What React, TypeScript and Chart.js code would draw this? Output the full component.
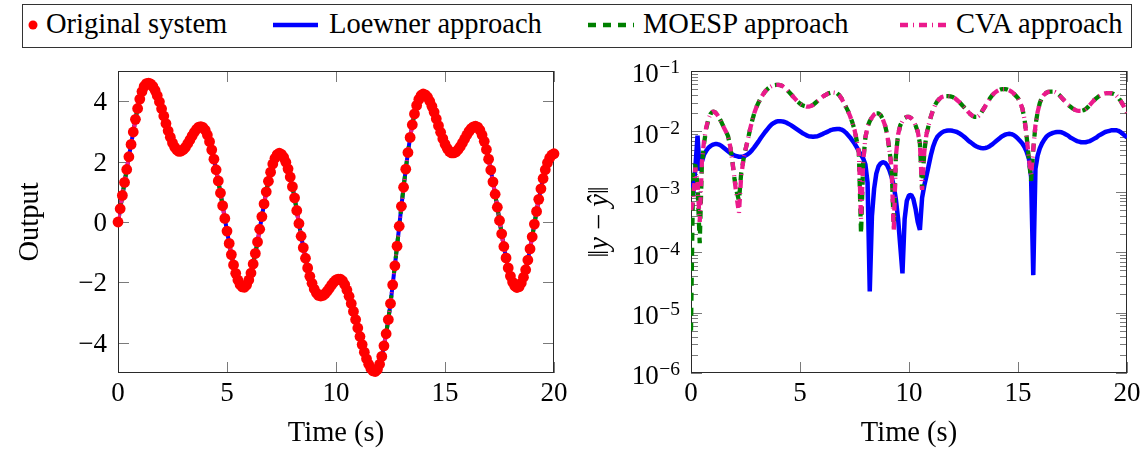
import React, { useEffect, useRef } from 'react';
import { Chart, registerables } from 'chart.js';

Chart.register(...registerables);

const SERIF = '"Liberation Serif", Tinos, "DejaVu Serif", "Noto Serif", "Times New Roman", Times, serif';

// ---- legend / series ----
const seriesNames = ['Original system', 'Loewner approach', 'MOESP approach', 'CVA approach'];
const seriesColors = ['#ff0000', '#0000ff', '#008000', '#eb1a8c'];

// ---- axes ----
const timeStepS = 0.1; // sampling interval of all series (s), t = 0 ... 20
const timeTicks = [0, 5, 10, 15, 20];
const outputTicks = [-4, -2, 0, 2, 4];
const errorDecades = [-6, -5, -4, -3, -2, -1]; // 10^-6 ... 10^-1

// ---- left panel: output of the original system (t = 0, 0.1, ..., 20) ----
const outputValues = [
  0, 0.44, 0.88, 1.31, 1.74, 2.16, 2.57, 2.98, 3.40, 3.76,
  4.07, 4.32, 4.49, 4.58, 4.60, 4.57, 4.49, 4.36, 4.19, 3.98,
  3.75, 3.51, 3.26, 3.02, 2.81, 2.62, 2.48, 2.39, 2.34, 2.35,
  2.40, 2.48, 2.60, 2.72, 2.85, 2.97, 3.07, 3.14, 3.16, 3.13,
  3.04, 2.88, 2.66, 2.39, 2.08, 1.73, 1.36, 0.96, 0.54, 0.12,
  -0.30, -0.71, -1.08, -1.42, -1.70, -1.92, -2.07, -2.15, -2.16, -2.08,
  -1.92, -1.69, -1.39, -1.04, -0.66, -0.24, 0.18, 0.60, 1.00, 1.35,
  1.65, 1.92, 2.11, 2.23, 2.28, 2.24, 2.14, 1.98, 1.76, 1.49,
  1.17, 0.80, 0.38, -0.05, -0.47, -0.85, -1.20, -1.52, -1.80, -2.03,
  -2.22, -2.35, -2.43, -2.45, -2.43, -2.37, -2.29, -2.19, -2.08, -1.99,
  -1.92, -1.89, -1.89, -1.95, -2.07, -2.25, -2.46, -2.70, -2.96, -3.23,
  -3.51, -3.79, -4.06, -4.31, -4.53, -4.71, -4.85, -4.93, -4.95, -4.88,
  -4.71, -4.45, -4.10, -3.70, -3.23, -2.70, -2.08, -1.45, -0.80, -0.14,
  0.52, 1.15, 1.75, 2.30, 2.80, 3.22, 3.58, 3.86, 4.06, 4.19,
  4.24, 4.21, 4.13, 4.00, 3.83, 3.64, 3.42, 3.19, 2.97, 2.76,
  2.58, 2.44, 2.34, 2.29, 2.29, 2.32, 2.40, 2.50, 2.62, 2.75,
  2.88, 3.00, 3.09, 3.15, 3.17, 3.14, 3.04, 2.88, 2.67, 2.40,
  2.08, 1.72, 1.33, 0.92, 0.49, 0.05, -0.39, -0.81, -1.19, -1.52,
  -1.79, -1.99, -2.12, -2.17, -2.14, -2.02, -1.83, -1.58, -1.26, -0.89,
  -0.49, -0.07, 0.35, 0.75, 1.10, 1.44, 1.73, 1.96, 2.12, 2.22,
  2.26,
];

// ---- right panel: log10 of ||y - y_hat|| (t = 0, 0.1, ..., 20) ----
const loewnerErrLog10 = [
  -2.85, -3.05, -2.6, -2.07, -2.65, -2.5, -2.38, -2.32, -2.27, -2.24,
  -2.22, -2.21, -2.21, -2.22, -2.24, -2.27, -2.30, -2.33, -2.36, -2.38,
  -2.40, -2.41, -2.42, -2.42, -2.415, -2.40, -2.38, -2.35, -2.31, -2.265,
  -2.215, -2.165, -2.11, -2.06, -2.01, -1.965, -1.92, -1.885, -1.86, -1.84,
  -1.83, -1.83, -1.835, -1.845, -1.86, -1.88, -1.90, -1.925, -1.95, -1.975,
  -2.0, -2.025, -2.045, -2.065, -2.08, -2.085, -2.09, -2.085, -2.08, -2.065,
  -2.05, -2.03, -2.015, -2.0, -1.98, -1.97, -1.965, -1.96, -1.96, -1.97,
  -1.99, -2.02, -2.06, -2.1, -2.15, -2.2, -2.26, -2.33, -2.39, -2.45,
  -2.55, -2.85, -4.65, -3.4, -2.95, -2.7, -2.58, -2.53, -2.51, -2.52,
  -2.56, -2.64, -2.75, -2.9, -3.13, -3.45, -3.9, -4.35, -3.45, -3.15,
  -3.06, -3.05, -3.12, -3.28, -3.5, -3.63, -3.1, -2.9, -2.74, -2.57,
  -2.4, -2.26, -2.16, -2.09, -2.05, -2.02, -2.0, -1.99, -1.985, -1.985,
  -1.99, -2.0, -2.01, -2.03, -2.055, -2.08, -2.11, -2.145, -2.175, -2.2,
  -2.23, -2.25, -2.265, -2.275, -2.28, -2.275, -2.265, -2.245, -2.22, -2.19,
  -2.16, -2.13, -2.1, -2.075, -2.055, -2.045, -2.04, -2.045, -2.06, -2.085,
  -2.12, -2.16, -2.2, -2.26, -2.34, -2.45, -2.75, -4.38, -2.62, -2.4,
  -2.28, -2.2, -2.14, -2.09, -2.06, -2.04, -2.025, -2.015, -2.01, -2.01,
  -2.015, -2.03, -2.05, -2.07, -2.1, -2.12, -2.14, -2.16, -2.17, -2.18,
  -2.18, -2.18, -2.17, -2.16, -2.14, -2.12, -2.1, -2.07, -2.05, -2.03,
  -2.01, -2.0, -1.99, -1.98, -1.98, -1.98, -1.99, -2.01, -2.04, -2.07,
  -2.1,
];

const moespErrLog10 = [
  -5.3, -2.6, -2.55, -2.9, -3.85, -2.55, -2.2, -1.95, -1.8, -1.71,
  -1.67, -1.68, -1.72, -1.78, -1.85, -1.93, -2.0, -2.08, -2.25, -2.5,
  -2.8, -3.0, -3.15, -2.7, -2.48, -2.3, -2.15, -1.98, -1.83, -1.7,
  -1.6, -1.52, -1.45, -1.39, -1.34, -1.3, -1.27, -1.25, -1.235, -1.23,
  -1.23, -1.235, -1.25, -1.28, -1.31, -1.35, -1.39, -1.43, -1.47, -1.51,
  -1.54, -1.565, -1.58, -1.59, -1.59, -1.58, -1.56, -1.53, -1.5, -1.47,
  -1.44, -1.41, -1.39, -1.37, -1.36, -1.355, -1.36, -1.37, -1.4, -1.45,
  -1.52, -1.59, -1.66, -1.75, -1.85, -1.97, -2.15, -2.35, -3.7, -2.5,
  -2.1, -1.92, -1.83, -1.77, -1.72, -1.7, -1.7, -1.73, -1.8, -1.9,
  -2.05, -2.3, -2.6, -3.55, -2.4, -2.05, -1.9, -1.83, -1.78, -1.76,
  -1.76, -1.78, -1.82, -1.9, -2.0, -2.2, -2.95, -2.35, -2.05, -1.9,
  -1.76, -1.65, -1.56, -1.5, -1.46, -1.43, -1.42, -1.415, -1.415, -1.42,
  -1.43, -1.45, -1.48, -1.51, -1.55, -1.59, -1.63, -1.67, -1.71, -1.74,
  -1.76, -1.76, -1.74, -1.7, -1.64, -1.58, -1.52, -1.46, -1.41, -1.37,
  -1.34, -1.32, -1.305, -1.3, -1.3, -1.305, -1.32, -1.34, -1.37, -1.41,
  -1.45, -1.52, -1.62, -1.8, -2.1, -2.45, -2.82, -2.3, -1.9, -1.68,
  -1.53, -1.44, -1.39, -1.36, -1.345, -1.34, -1.34, -1.35, -1.37, -1.4,
  -1.44, -1.48, -1.52, -1.56, -1.59, -1.62, -1.64, -1.655, -1.66, -1.66,
  -1.65, -1.63, -1.6, -1.56, -1.52, -1.48, -1.45, -1.42, -1.4, -1.38,
  -1.37, -1.365, -1.365, -1.37, -1.38, -1.4, -1.44, -1.49, -1.55, -1.62,
  -1.69,
];

const cvaErrLog10 = [
  -3.3, -3.15, -2.6, -2.85, -3.5, -2.5, -2.15, -1.93, -1.79, -1.71,
  -1.67, -1.68, -1.72, -1.78, -1.85, -1.93, -2.0, -2.08, -2.25, -2.5,
  -2.8, -3.1, -3.35, -2.75, -2.48, -2.3, -2.15, -1.98, -1.83, -1.7,
  -1.6, -1.52, -1.45, -1.39, -1.34, -1.3, -1.27, -1.25, -1.235, -1.23,
  -1.23, -1.235, -1.25, -1.28, -1.31, -1.35, -1.39, -1.43, -1.47, -1.51,
  -1.54, -1.565, -1.58, -1.59, -1.59, -1.58, -1.56, -1.53, -1.5, -1.47,
  -1.44, -1.41, -1.39, -1.37, -1.36, -1.355, -1.36, -1.37, -1.4, -1.45,
  -1.52, -1.59, -1.66, -1.75, -1.85, -1.97, -2.15, -2.35, -3.45, -2.5,
  -2.1, -1.92, -1.83, -1.77, -1.72, -1.7, -1.7, -1.73, -1.8, -1.9,
  -2.05, -2.3, -2.6, -3.65, -2.4, -2.05, -1.9, -1.83, -1.78, -1.76,
  -1.76, -1.78, -1.82, -1.9, -2.0, -2.2, -2.97, -2.35, -2.05, -1.9,
  -1.76, -1.65, -1.56, -1.5, -1.46, -1.43, -1.42, -1.415, -1.415, -1.42,
  -1.43, -1.45, -1.48, -1.51, -1.55, -1.59, -1.63, -1.67, -1.71, -1.74,
  -1.76, -1.76, -1.74, -1.7, -1.64, -1.58, -1.52, -1.46, -1.41, -1.37,
  -1.34, -1.32, -1.305, -1.3, -1.3, -1.305, -1.32, -1.34, -1.37, -1.41,
  -1.45, -1.52, -1.62, -1.8, -2.1, -2.45, -2.72, -2.3, -1.9, -1.68,
  -1.53, -1.44, -1.39, -1.36, -1.345, -1.34, -1.34, -1.35, -1.37, -1.4,
  -1.44, -1.48, -1.52, -1.56, -1.59, -1.62, -1.64, -1.655, -1.66, -1.66,
  -1.65, -1.63, -1.6, -1.56, -1.52, -1.48, -1.45, -1.42, -1.4, -1.38,
  -1.37, -1.365, -1.365, -1.37, -1.38, -1.4, -1.44, -1.49, -1.55, -1.62,
  -1.69,
];

// ---- styling ----
const DASHED = [8, 7];
const DASHDOT = [8, 5, 1, 5];
const TICK_COLOR = '#7a7a7a';
const FRAME_COLOR = '#2a2a2a';
const MAJOR_LEN = 11;
const MINOR_LEN = 7;
const TICK_FONT = 27;
const SUP_FONT = 19.5;
const TITLE_FONT = 28.5;
const LEGEND_FONT = 28.5;
const MARK_RADIUS = 5.4;

const timeS = outputValues.map((_, i) => Math.round(i * timeStepS * 10) / 10);
const toPoints = (ys: number[]) => ys.map((y, i) => ({ x: timeS[i], y }));
const toErrPoints = (exps: number[]) => exps.map((e, i) => ({ x: timeS[i], y: Math.pow(10, e) }));

type TextRun = { text: string; italic?: boolean };

function pgfAxes(cfg: { log: boolean; yTitle: TextRun[]; yTitleX: number }) {
  return {
    id: 'pgfAxes',
    beforeDatasetsDraw(chart: any) {
      const { ctx, chartArea: a } = chart;
      const xs = chart.scales.x;
      const ys = chart.scales.y;
      ctx.save();
      ctx.lineWidth = 1;
      ctx.strokeStyle = TICK_COLOR;
      ctx.beginPath();
      for (const v of timeTicks) {
        const p = Math.round(xs.getPixelForValue(v)) + 0.5;
        ctx.moveTo(p, a.bottom); ctx.lineTo(p, a.bottom - MAJOR_LEN);
        ctx.moveTo(p, a.top); ctx.lineTo(p, a.top + MAJOR_LEN);
      }
      const yMajor = cfg.log ? errorDecades.map((e) => Math.pow(10, e)) : outputTicks;
      for (const v of yMajor) {
        const p = Math.round(ys.getPixelForValue(v)) + 0.5;
        ctx.moveTo(a.left, p); ctx.lineTo(a.left + MAJOR_LEN, p);
        ctx.moveTo(a.right, p); ctx.lineTo(a.right - MAJOR_LEN, p);
      }
      if (cfg.log) {
        for (const e of errorDecades.slice(0, -1)) {
          for (let m = 2; m <= 9; m++) {
            const p = Math.round(ys.getPixelForValue(m * Math.pow(10, e))) + 0.5;
            ctx.moveTo(a.left, p); ctx.lineTo(a.left + MINOR_LEN, p);
            ctx.moveTo(a.right, p); ctx.lineTo(a.right - MINOR_LEN, p);
          }
        }
      }
      ctx.stroke();
      ctx.strokeStyle = FRAME_COLOR;
      ctx.strokeRect(a.left + 0.5, a.top + 0.5, a.right - a.left - 1, a.bottom - a.top - 1);
      ctx.restore();
    },
    afterDraw(chart: any) {
      const { ctx, chartArea: a } = chart;
      const xs = chart.scales.x;
      const ys = chart.scales.y;
      ctx.save();
      ctx.fillStyle = '#000';
      ctx.textBaseline = 'alphabetic';
      ctx.font = `${TICK_FONT}px ${SERIF}`;
      ctx.textAlign = 'center';
      for (const v of timeTicks) ctx.fillText(String(v), xs.getPixelForValue(v), a.bottom + 28);
      ctx.textAlign = 'right';
      if (!cfg.log) {
        for (const v of outputTicks) {
          const label = v < 0 ? '\u2212' + Math.abs(v) : String(v);
          ctx.fillText(label, a.left - 11, ys.getPixelForValue(v) + 9);
        }
      } else {
        for (const e of errorDecades) {
          const p = ys.getPixelForValue(Math.pow(10, e));
          const sup = (e < 0 ? '\u2212' : '') + Math.abs(e);
          ctx.font = `${SUP_FONT}px ${SERIF}`;
          const sw = ctx.measureText(sup).width;
          ctx.fillText(sup, a.left - 11, p + 2.3);
          ctx.font = `${TICK_FONT}px ${SERIF}`;
          ctx.fillText('10', a.left - 11 - sw - 0.5, p + 11.3);
        }
      }
      // x title
      ctx.font = `${TITLE_FONT}px ${SERIF}`;
      ctx.textAlign = 'center';
      ctx.fillText('Time (s)', (a.left + a.right) / 2, a.bottom + 68);
      // y title (rotated)
      ctx.translate(cfg.yTitleX, (a.top + a.bottom) / 2);
      ctx.rotate(-Math.PI / 2);
      ctx.textAlign = 'left';
      const fontOf = (r: TextRun) => `${r.italic ? 'italic ' : ''}${TITLE_FONT}px ${SERIF}`;
      let total = 0;
      for (const r of cfg.yTitle) { ctx.font = fontOf(r); total += ctx.measureText(r.text).width; }
      let x = -total / 2;
      for (const r of cfg.yTitle) {
        ctx.font = fontOf(r);
        ctx.fillText(r.text, x, 0);
        x += ctx.measureText(r.text).width;
      }
      ctx.restore();
    },
  };
}

function xScale() {
  return {
    type: 'linear',
    min: 0,
    max: 20,
    grid: { display: false },
    border: { display: false },
    ticks: { display: false },
    afterBuildTicks: (s: any) => { s.ticks = timeTicks.map((value) => ({ value })); },
    afterFit: (s: any) => { s.height = 80; },
  };
}

function commonOptions() {
  return {
    responsive: false,
    maintainAspectRatio: false,
    animation: false,
    events: [],
    layout: { padding: { left: 0, right: 19, top: 21, bottom: 0 } },
    plugins: { legend: { display: false }, tooltip: { enabled: false }, title: { display: false } },
    elements: { line: { tension: 0, borderCapStyle: 'butt', borderJoinStyle: 'bevel' } },
  };
}

function leftConfig(): any {
  return {
    type: 'line',
    data: {
      datasets: [
        {
          label: seriesNames[0], data: toPoints(outputValues), showLine: false,
          pointRadius: MARK_RADIUS, pointBorderWidth: 0, pointBackgroundColor: seriesColors[0],
          borderColor: seriesColors[0], clip: false,
        },
        {
          label: seriesNames[3], data: toPoints(outputValues), borderColor: seriesColors[3],
          borderWidth: 4, borderDash: DASHDOT, pointRadius: 0, clip: 0,
        },
        {
          label: seriesNames[2], data: toPoints(outputValues), borderColor: seriesColors[2],
          borderWidth: 4, borderDash: DASHED, pointRadius: 0, clip: 0,
        },
        {
          label: seriesNames[1], data: toPoints(outputValues), borderColor: seriesColors[1],
          borderWidth: 4, pointRadius: 0, clip: 0,
        },
      ],
    },
    options: {
      ...commonOptions(),
      scales: {
        x: xScale(),
        y: {
          type: 'linear', min: -5, max: 5,
          grid: { display: false }, border: { display: false }, ticks: { display: false },
          afterBuildTicks: (s: any) => { s.ticks = outputTicks.map((value) => ({ value })); },
          afterFit: (s: any) => { s.width = 118; },
        },
      },
    },
    plugins: [pgfAxes({ log: false, yTitle: [{ text: 'Output' }], yTitleX: 38 })],
  };
}

function rightConfig(): any {
  return {
    type: 'line',
    data: {
      datasets: [
        {
          label: seriesNames[3], data: toErrPoints(cvaErrLog10), borderColor: seriesColors[3],
          borderWidth: 4.3, borderDash: DASHDOT, pointRadius: 0, clip: 0,
        },
        {
          label: seriesNames[2], data: toErrPoints(moespErrLog10), borderColor: seriesColors[2],
          borderWidth: 4.3, borderDash: DASHED, pointRadius: 0, clip: 0,
        },
        {
          label: seriesNames[1], data: toErrPoints(loewnerErrLog10), borderColor: seriesColors[1],
          borderWidth: 4.5, pointRadius: 0, clip: 0,
        },
      ],
    },
    options: {
      ...commonOptions(),
      scales: {
        x: xScale(),
        y: {
          type: 'logarithmic', min: 1e-6, max: 1e-1,
          grid: { display: false }, border: { display: false }, ticks: { display: false },
          afterBuildTicks: (s: any) => { s.ticks = errorDecades.map((e) => ({ value: Math.pow(10, e) })); },
          afterFit: (s: any) => { s.width = 118; },
        },
      },
    },
    plugins: [
      pgfAxes({
        log: true,
        yTitle: [
          { text: '\u2016' }, { text: 'y', italic: true }, { text: ' \u2212 ' },
          { text: '\u0177', italic: true }, { text: '\u2016' },
        ],
        yTitleX: 35,
      }),
    ],
  };
}

function Legend() {
  const textX = [46, 329, 643, 956];
  const lineX = [[0, 0], [273, 318], [588, 634], [900, 948]];
  const dashes = ['', '', DASHED.join(' '), DASHDOT.join(' ')];
  return (
    <svg width={1146} height={50} style={{ position: 'absolute', left: 0, top: 0 }}>
      <rect x={22.5} y={4.5} width={1109} height={43} fill="#fff" stroke="#333" strokeWidth={1} />
      <circle cx={33} cy={25} r={4.5} fill={seriesColors[0]} />
      {seriesNames.map((name, i) => (
        <g key={name}>
          {i > 0 && (
            <line
              x1={lineX[i][0]} y1={25} x2={lineX[i][1]} y2={25}
              stroke={seriesColors[i]} strokeWidth={4.3}
              strokeDasharray={dashes[i] || undefined}
            />
          )}
          <text x={textX[i]} y={33} style={{ fontFamily: SERIF, fontSize: LEGEND_FONT }} fill="#000">{name}</text>
        </g>
      ))}
    </svg>
  );
}

export default function App() {
  const leftRef = useRef<HTMLCanvasElement>(null);
  const rightRef = useRef<HTMLCanvasElement>(null);

  useEffect(() => {
    const c1 = new Chart(leftRef.current as HTMLCanvasElement, leftConfig());
    const c2 = new Chart(rightRef.current as HTMLCanvasElement, rightConfig());
    return () => {
      c1.destroy();
      c2.destroy();
    };
  }, []);

  return (
    <div style={{ position: 'absolute', left: 0, top: 0, width: 1146, height: 453, background: '#fff' }}>
      <Legend />
      <canvas
        ref={leftRef} width={573} height={403}
        style={{ position: 'absolute', left: 0, top: 50, width: 573, height: 403 }}
      />
      <canvas
        ref={rightRef} width={573} height={403}
        style={{ position: 'absolute', left: 573, top: 50, width: 573, height: 403 }}
      />
    </div>
  );
}
